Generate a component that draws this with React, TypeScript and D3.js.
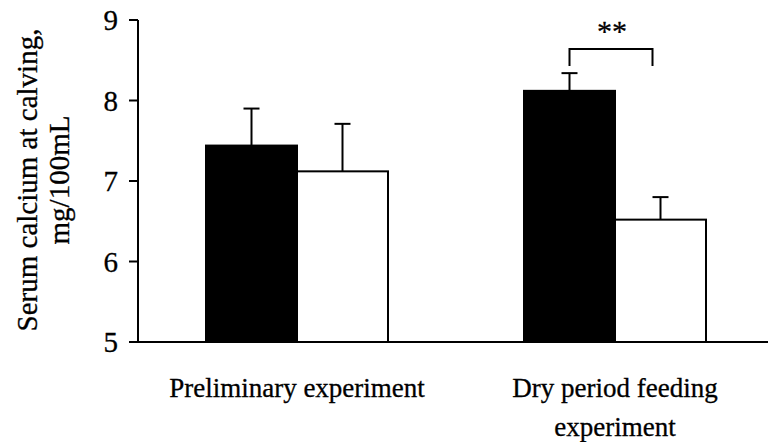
import React from "react";
import * as d3 from "d3";

const groups = ["Preliminary experiment", "Dry period feeding experiment"];
const seriesKeys = ["treated", "control"];
const blackValues = [7.44, 8.12];
const whiteValues = [7.12, 6.52];
const blackErrors = [0.46, 0.22];
const whiteErrors = [0.59, 0.28];
const yTicks = [5, 6, 7, 8, 9];
const yTitleLines = ["Serum calcium at calving,", "mg/100mL"];
const groupLabelLines = [["Preliminary experiment"], ["Dry period feeding", "experiment"]];
const significance = "**";

const W = 768;
const H = 442;
const FONT = "'Liberation Serif', 'Times New Roman', serif";

export default function App() {
  const axisX = 138;
  const y = d3.scaleLinear().domain([5, 9]).range([342, 20]);
  const groupCenters = d3.scalePoint<string>().domain(groups).range([297, 615]);
  const barW = 91;
  const x1 = d3.scaleBand<string>().domain(seriesKeys).range([-barW, barW]).padding(0);

  const vals = [blackValues, whiteValues];
  const errs = [blackErrors, whiteErrors];
  const fills = ["#000", "#fff"];

  const bLeft = (groupCenters(groups[1]) as number) + (x1("treated") as number) + x1.bandwidth() / 2;
  const bRight = (groupCenters(groups[1]) as number) + (x1("control") as number) + x1.bandwidth() / 2 - 8;
  const bTop = 49;
  const bBottom = 66;

  const textProps = { fontFamily: FONT, fill: "#000", stroke: "#000", strokeWidth: 0.3 };

  return (
    <svg width={W} height={H} style={{ display: "block", position: "absolute", left: 0, top: 0, background: "#fff" }}>
      <rect x={0} y={0} width={W} height={H} fill="#fff" />
      {groups.map((g, gi) =>
        seriesKeys.map((k, si) => {
          const cx = (groupCenters(g) as number) + (x1(k) as number);
          const v = vals[si][gi];
          const e = errs[si][gi];
          const mid = cx + x1.bandwidth() / 2;
          return (
            <g key={g + k}>
              <line x1={mid} x2={mid} y1={y(v)} y2={y(v + e)} stroke="#000" strokeWidth={2} />
              <line x1={mid - 8} x2={mid + 8} y1={y(v + e)} y2={y(v + e)} stroke="#000" strokeWidth={2} />
              <rect x={cx} y={y(v)} width={x1.bandwidth()} height={y(5) - y(v)} fill={fills[si]} stroke="#000" strokeWidth={2} />
            </g>
          );
        })
      )}
      <line x1={axisX} x2={axisX} y1={y(9)} y2={y(5)} stroke="#000" strokeWidth={2} />
      {yTicks.map((t) => (
        <g key={t}>
          <line x1={axisX - 9} x2={axisX} y1={y(t)} y2={y(t)} stroke="#000" strokeWidth={2} />
          <text x={axisX - 20} y={y(t)} dy="0.35em" textAnchor="end" fontSize={29} {...textProps}>
            {t}
          </text>
        </g>
      ))}
      <line x1={axisX} x2={W} y1={y(5)} y2={y(5)} stroke="#000" strokeWidth={2} />
      {yTitleLines.map((l, i) => (
        <text
          key={l}
          transform={`translate(${37 + i * 32},180) rotate(-90)`}
          textAnchor="middle"
          fontSize={29}
          {...textProps}
        >
          {l}
        </text>
      ))}
      {groupLabelLines.map((lines, gi) =>
        lines.map((l, li) => (
          <text
            key={gi + "-" + li}
            x={groupCenters(groups[gi]) as number}
            y={397 + li * 39}
            textAnchor="middle"
            fontSize={27}
            {...textProps}
          >
            {l}
          </text>
        ))
      )}
      <path d={`M${bLeft},${bBottom}V${bTop}H${bRight}V${bBottom}`} fill="none" stroke="#000" strokeWidth={2} />
      <text x={(bLeft + bRight) / 2 + 1} y={41} textAnchor="middle" fontSize={30} {...textProps}>
        {significance}
      </text>
    </svg>
  );
}
